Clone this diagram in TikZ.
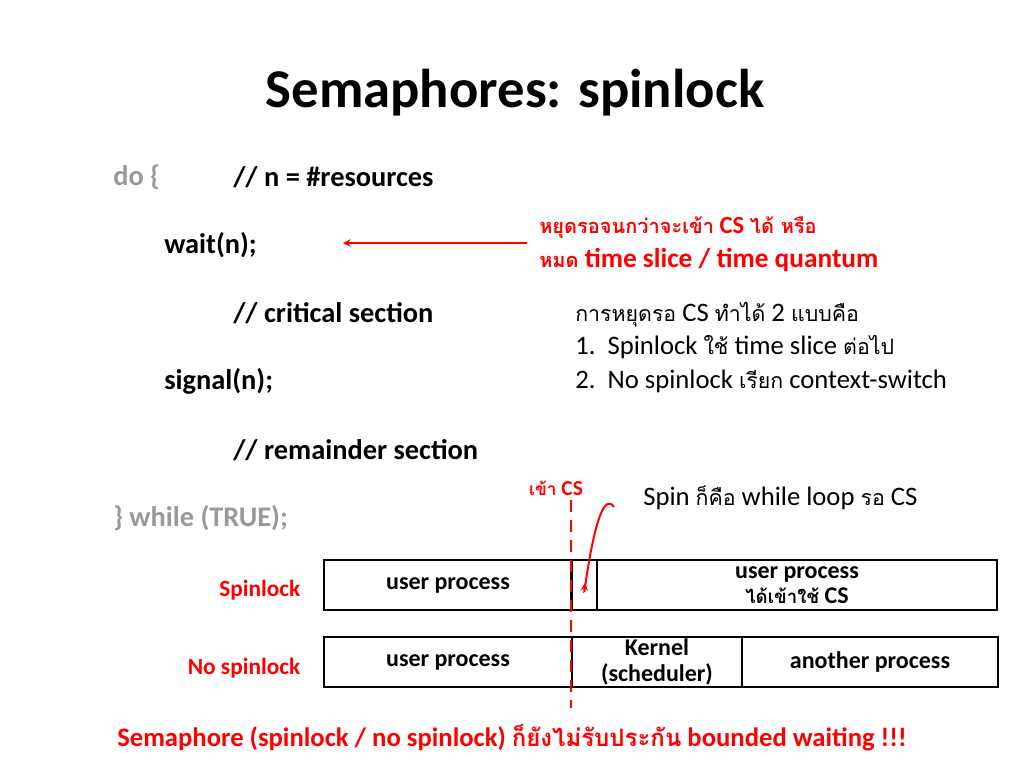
\documentclass[tikz,border=0pt]{standalone}
\usepackage{fontspec}
\setmainfont{Carlito}
\newfontfamily\thai[Script=Thai]{Loma}
\usetikzlibrary{positioning}
\definecolor{slidered}{rgb}{1,0,0}
\definecolor{slidegray}{rgb}{0.6,0.6,0.6}
\tikzset{
  codetxt/.style={anchor=west,inner sep=0.75pt,font=\fontsize{21.3}{25}\selectfont\bfseries},
  notetxt/.style={anchor=west,inner sep=0.75pt,font=\fontsize{20}{23}\selectfont},
  barbox/.style={draw,line width=1.5pt,minimum height=37.5pt,inner sep=0pt},
  bartxt/.style={font=\fontsize{18}{19}\selectfont\bfseries,align=center}
}
\begin{document}
\begin{tikzpicture}[x=0.75pt,y=0.75pt,yscale=-1,xscale=1]
\useasboundingbox (0,0) rectangle (1024,768);

% Title
\node (title) at (515,93) [font=\fontsize{41}{48}\selectfont\bfseries] {Semaphores: spinlock};

% Code
\node (do) at (112,177) [codetxt,text=slidegray] {do \{};
\node (res) at (232,177) [codetxt] {// n = \#resources};
\node (wait) at (163,245) [codetxt] {wait(n);};
\node (crit) at (232,313) [codetxt] {// critical section};
\node (sig) at (163,381) [codetxt] {signal(n);};
\node (rem) at (232,450) [codetxt] {// remainder section};
\node (wh) at (112,518) [codetxt,text=slidegray] {\} while (TRUE);};

% Notes
\node (stop) at (538,228) [codetxt,text=slidered,font=\fontsize{18.5}{22}\selectfont\bfseries] {{\thai\fontsize{15}{18}\selectfont หยุดรอจนกว่าจะเข้า} CS {\thai\fontsize{15}{18}\selectfont ได้ หรือ}};
\node (tq) at (538,260) [codetxt,text=slidered,font=\fontsize{20.5}{24}\selectfont\bfseries] {{\thai\fontsize{15}{18}\selectfont หมด} time slice / time quantum};
\coordinate (arrfrom) at (527,243);
\draw[slidered,line width=1.5pt,-stealth] (arrfrom) -- (343,243);

\node (how) at (574,315) [notetxt] {{\thai\fontsize{16}{18}\selectfont การหยุดรอ} CS {\thai\fontsize{16}{18}\selectfont ทำได้} 2 {\thai\fontsize{16}{18}\selectfont แบบคือ}};
\node (one) at (574,347) [notetxt] {1.\ \ Spinlock {\thai\fontsize{16}{18}\selectfont ใช้} time slice {\thai\fontsize{16}{18}\selectfont ต่อไป}};
\node (two) at (574,381) [notetxt] {2.\ \ No spinlock {\thai\fontsize{16}{18}\selectfont เรียก} context-switch};

\node (enter) at (556,488) [text=slidered,font=\fontsize{16}{18}\selectfont\bfseries] {{\thai\fontsize{13}{15}\selectfont เข้า} CS};
\node (spin) at (642,498) [notetxt] {Spin {\thai\fontsize{16}{18}\selectfont ก็คือ} while loop {\thai\fontsize{16}{18}\selectfont รอ} CS};

% Bars
\node (sp1) at (448,585) [barbox,minimum width=186pt] {};
\node (sp2) at (584,585) [barbox,minimum width=19.5pt] {};
\node (sp3) at (797,585) [barbox,minimum width=300pt] {};
\node (np1) at (448,662) [barbox,minimum width=186pt] {};
\node (np2) at (657,662) [barbox,minimum width=127.5pt] {};
\node (np3) at (870,662) [barbox,minimum width=192pt] {};
\node at (448,585) [bartxt] {user process};
\node at (797,585) [bartxt] {user process\\{\thai\fontsize{14}{16}\selectfont ได้เข้าใช้} CS};
\node at (448,662) [bartxt] {user process};
\node at (657,662) [bartxt] {Kernel\\(scheduler)};
\node at (870,662) [bartxt] {another process};
\node (lsp) at (305,590) [anchor=east,text=slidered,font=\fontsize{17.5}{20}\selectfont\bfseries] {Spinlock};
\node (lnp) at (305,668) [anchor=east,text=slidered,font=\fontsize{17.5}{20}\selectfont\bfseries] {No spinlock};

% CS entry line and spin arrow
\coordinate (linebot) at (571,708);
\draw[slidered,line width=1.5pt,dash pattern=on 9pt off 6pt] (enter.south -| linebot) -- (linebot);
\coordinate (spinfrom) at (614,507);
\draw[slidered,line width=1.5pt,-stealth] (spinfrom) to[out=235,in=95] (585,583);

% Footer
\node (foot) at (512,738) [text=slidered,font=\fontsize{20}{23}\selectfont\bfseries] {Semaphore (spinlock / no spinlock) {\thai\fontsize{18}{20}\selectfont ก็ยังไม่รับประกัน} bounded waiting !!!};
\end{tikzpicture}
\end{document}
